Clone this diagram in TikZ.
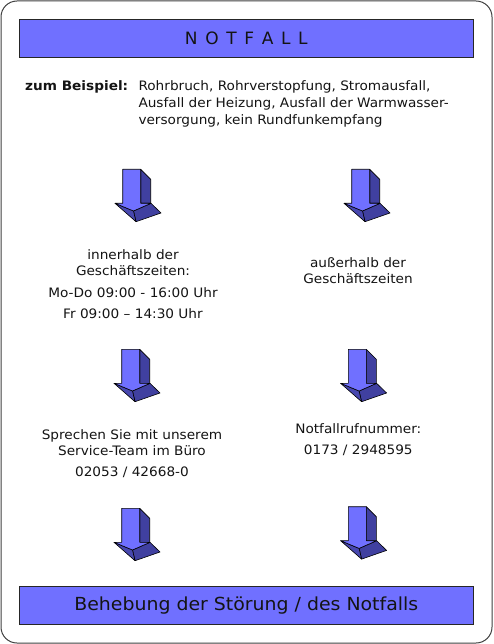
\documentclass[tikz,border=0pt]{standalone}
\usepackage{fontspec}
\setmainfont[FakeStretch=1.05]{DejaVu Sans}
\newfontfamily\titlefont{DejaVu Sans}
\definecolor{boxblue}{RGB}{112,112,255}
\definecolor{darkblue}{RGB}{64,64,160}
\definecolor{txt}{RGB}{20,20,20}
\tikzset{
  bluebox/.style={draw=black!85, line width=0.8pt, fill=boxblue},
  frame/.style={draw=black!75, line width=1pt, rounded corners=16pt},
  txtline/.style={anchor=base, text=txt, inner sep=0pt, font=\fontsize{13}{16}\selectfont},
  face/.style={draw=black, line width=0.6pt, line join=round},
  downarrow/.pic={
    \path[face, fill=darkblue] (18,0) -- (28,10) -- (28,34) -- (18,34) -- cycle;
    \path[face, fill=darkblue] (10.8,41.7) -- (28.3,34) -- (38.3,43.7) -- (13.3,52.4) -- cycle;
    \path[face, fill=darkblue!85!boxblue] (-7.7,34) -- (10.8,41.7) -- (13.3,52.4) -- cycle;
    \path[face, fill=boxblue] (0,0) -- (18,0) -- (18,34) -- (28.3,34) -- (10.8,41.7) -- (-7.7,34) -- (0,34) -- cycle;
  }
}
\begin{document}
\begin{tikzpicture}[x=1pt,y=-1pt]
\useasboundingbox (0,0) rectangle (493,644);
\path[frame, fill=white] (1,1) rectangle (492,643);
% top and bottom boxes
\path[bluebox] (19.3,19.3) rectangle (473.3,57.3);
\node[anchor=base, text=txt, inner sep=0pt, font=\titlefont\fontsize{17}{20}\selectfont] (title) at (246.3,44.3) {N\hspace{0.45em}O\hspace{0.45em}T\hspace{0.45em}F\hspace{0.45em}A\hspace{0.45em}L\hspace{0.45em}L};
\path[bluebox] (19.3,586) rectangle (473.3,624);
\node[anchor=base, text=txt, inner sep=0pt, font=\fontsize{18}{20}\selectfont] (result) at (246.3,610) {Behebung der Störung / des Notfalls};
% examples
\node[txtline, anchor=base west, font=\fontsize{13}{16}\selectfont\bfseries] (zb) at (25,91) {zum Beispiel:};
\node[txtline, anchor=base west] (ex1) at (138.3,91) {Rohrbruch, Rohrverstopfung, Stromausfall,};
\node[txtline, anchor=base west] (ex2) at (138.3,108) {Ausfall der Heizung, Ausfall der Warmwasser-};
\node[txtline, anchor=base west] (ex3) at (138.3,125) {versorgung, kein Rundfunkempfang};
% arrows row 1
\pic at (122.7,169.3) {downarrow};
\pic at (351.7,169.3) {downarrow};
% row 1 texts
\node[txtline] (in1) at (133,259.5) {innerhalb der};
\node[txtline] (in2) at (133,275.5) {Geschäftszeiten:};
\node[txtline] (in3) at (133,297.8) {Mo-Do 09:00 - 16:00 Uhr};
\node[txtline] (in4) at (133,318.5) {Fr 09:00 – 14:30 Uhr};
\node[txtline] (out1) at (358,267.5) {außerhalb der};
\node[txtline] (out2) at (358,283.5) {Geschäftszeiten};
% arrows row 2
\pic at (121.7,349.3) {downarrow};
\pic at (348.3,349.3) {downarrow};
% row 2 texts
\node[txtline] (sp1) at (132,439.5) {Sprechen Sie mit unserem};
\node[txtline] (sp2) at (132,455.5) {Service-Team im Büro};
\node[txtline] (sp3) at (132,476.8) {02053 / 42668-0};
\node[txtline] (nr1) at (358.3,433.8) {Notfallrufnummer:};
\node[txtline] (nr2) at (358.3,454.5) {0173 / 2948595};
% arrows row 3
\pic at (121.7,508.3) {downarrow};
\pic at (348.3,506.7) {downarrow};
\end{tikzpicture}
\end{document}
